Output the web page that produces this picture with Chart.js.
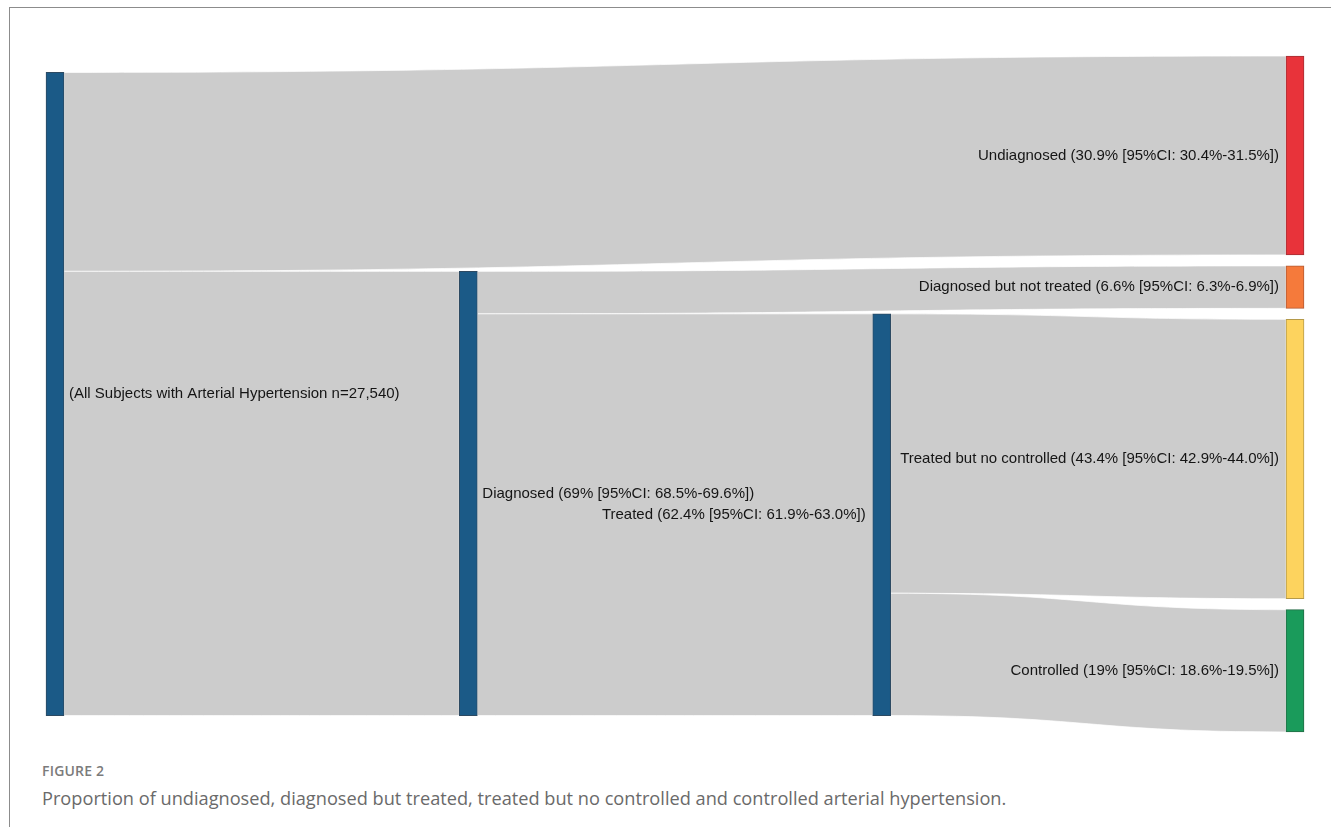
<!DOCTYPE html>
<html>
<head>
<meta charset="utf-8">
<script src="https://cdn.jsdelivr.net/npm/chart.js@4/dist/chart.umd.min.js"></script>
<style>
  body { margin: 0; background: #fff; width: 1331px; height: 827px; overflow: hidden; position: relative; }
  #frame { position: absolute; left: 9px; top: 7px; width: 1400px; height: 900px; border-left: 1px solid #8c8c8c; border-top: 1px solid #8c8c8c; }
  #wrap { position: absolute; left: 0; top: 0; width: 1331px; height: 760px; }
  #fig { position: absolute; left: 42px; top: 761px; font-family: "Open Sans", sans-serif; font-size: 14px; font-weight: 600; color: #7b7b7b; letter-spacing: 0.2px; }
  #cap { position: absolute; left: 42px; top: 786px; font-family: "Open Sans", sans-serif; font-size: 18.2px; color: #6a6a6a; }
</style>
</head>
<body>
<div id="frame"></div>
<div id="wrap"><canvas id="sankey"></canvas></div>
<div id="fig">FIGURE 2</div>
<div id="cap">Proportion of undiagnosed, diagnosed but treated, treated but no controlled and controlled arterial hypertension.</div>
<script>
// nós do diagrama
const nodeLabels = [
  "(All Subjects with Arterial Hypertension n=27,540)",
  "Diagnosed (69% [95%CI: 68.5%-69.6%])",
  "Treated (62.4% [95%CI: 61.9%-63.0%])",
  "Undiagnosed (30.9% [95%CI: 30.4%-31.5%])",
  "Diagnosed but not treated (6.6% [95%CI: 6.3%-6.9%])",
  "Treated but no controlled (43.4% [95%CI: 42.9%-44.0%])",
  "Controlled (19% [95%CI: 18.6%-19.5%])"
];
const nodeColumn = [0, 1, 2, 3, 3, 3, 3];
const nodeColors = ["#1b5a87", "#1b5a87", "#1b5a87", "#e8333a", "#f57a3b", "#fdd35e", "#1a9b5b"];
const nodeBorders = ["#2d4a62", "#2d4a62", "#2d4a62", "#a33035", "#b35a33", "#b59a4a", "#246b45"];

// ligações (origem -> destino, valor em %)
const linkSource = [0, 0, 1, 1, 2, 2];
const linkTarget = [3, 1, 4, 2, 5, 6];
const linkValue = [30.9, 69, 6.6, 62.4, 43.4, 19];

const NODE_PAD = 1.7;   // espaço entre nós na mesma coluna (em %)
const NODE_W = 18;      // largura do nó em px

// calcula o tamanho de cada nó
const nodeValue = nodeLabels.map((_, i) => {
  let inSum = 0, outSum = 0;
  linkValue.forEach((v, k) => {
    if (linkTarget[k] === i) inSum += v;
    if (linkSource[k] === i) outSum += v;
  });
  return Math.max(inSum, outSum);
});

// layout: última coluna empilhada, primeira centralizada, intermediárias alinhadas à ligação de entrada
const nodeTop = new Array(nodeLabels.length).fill(0);
const lastCol = Math.max(...nodeColumn);
let acc = 0;
nodeLabels.forEach((_, i) => {
  if (nodeColumn[i] === lastCol) { nodeTop[i] = acc; acc += nodeValue[i] + NODE_PAD; }
});
const totalHeight = acc - NODE_PAD;
nodeLabels.forEach((_, i) => {
  if (nodeColumn[i] === 0) nodeTop[i] = (totalHeight - nodeValue[i]) / 2;
});
const linkY0 = [], linkY1 = [];
const outOffset = new Array(nodeLabels.length).fill(0);
const inOffset = new Array(nodeLabels.length).fill(0);
for (let c = 0; c <= lastCol; c++) {
  linkValue.forEach((v, k) => {
    const s = linkSource[k], t = linkTarget[k];
    if (nodeColumn[s] !== c) return;
    linkY0[k] = nodeTop[s] + outOffset[s];
    outOffset[s] += v;
    if (nodeColumn[t] !== lastCol && inOffset[t] === 0) nodeTop[t] = linkY0[k];
    linkY1[k] = nodeTop[t] + inOffset[t];
    inOffset[t] += v;
  });
}

const linksPlugin = {
  id: 'sankeyLinks',
  beforeDatasetsDraw(chart) {
    const { ctx, scales: { x, y } } = chart;
    ctx.save();
    linkValue.forEach((v, k) => {
      const xa = x.getPixelForValue(nodeColumn[linkSource[k]]) + NODE_W / 2;
      const xb = x.getPixelForValue(nodeColumn[linkTarget[k]]) - NODE_W / 2;
      const xm = (xa + xb) / 2;
      const a0 = y.getPixelForValue(linkY0[k]), a1 = y.getPixelForValue(linkY0[k] + v);
      const b0 = y.getPixelForValue(linkY1[k]), b1 = y.getPixelForValue(linkY1[k] + v);
      ctx.beginPath();
      ctx.moveTo(xa, a0);
      ctx.bezierCurveTo(xm, a0, xm, b0, xb, b0);
      ctx.lineTo(xb, b1);
      ctx.bezierCurveTo(xm, b1, xm, a1, xa, a1);
      ctx.closePath();
      ctx.fillStyle = '#cccccc';
      ctx.fill();
      ctx.strokeStyle = 'rgba(255,255,255,0.9)';
      ctx.lineWidth = 0.8;
      ctx.stroke();
    });
    ctx.restore();
  },
  afterDatasetsDraw(chart) {
    const { ctx, scales: { x, y } } = chart;
    ctx.save();
    ctx.font = '15px "Liberation Sans", Arial, sans-serif';
    ctx.fillStyle = '#151515';
    ctx.textBaseline = 'middle';
    nodeLabels.forEach((lab, i) => {
      const cx = x.getPixelForValue(nodeColumn[i]);
      const cy = y.getPixelForValue(nodeTop[i] + nodeValue[i] / 2);
      if (nodeColumn[i] < lastCol / 2) {
        ctx.textAlign = 'left';
        ctx.fillText(lab, cx + NODE_W / 2 + 5, cy);
      } else {
        ctx.textAlign = 'right';
        ctx.fillText(lab, cx - NODE_W / 2 - 7, cy);
      }
    });
    ctx.restore();
  }
};

new Chart(document.getElementById('sankey'), {
  type: 'bar',
  data: {
    datasets: [{
      data: nodeLabels.map((_, i) => ({ x: nodeColumn[i], y: [nodeTop[i], nodeTop[i] + nodeValue[i]] })),
      backgroundColor: nodeColors,
      borderColor: nodeBorders,
      borderWidth: 1,
      borderSkipped: false,
      barThickness: NODE_W,
      clip: false
    }]
  },
  options: {
    responsive: true,
    maintainAspectRatio: false,
    animation: false,
    layout: { padding: { left: 55, right: 36, top: 56, bottom: 28 } },
    plugins: { legend: { display: false }, tooltip: { enabled: false } },
    scales: {
      x: { type: 'linear', min: 0, max: lastCol, offset: false, display: false },
      y: { min: 0, max: totalHeight, reverse: true, display: false }
    }
  },
  plugins: [linksPlugin]
});
</script>
</body>
</html>
